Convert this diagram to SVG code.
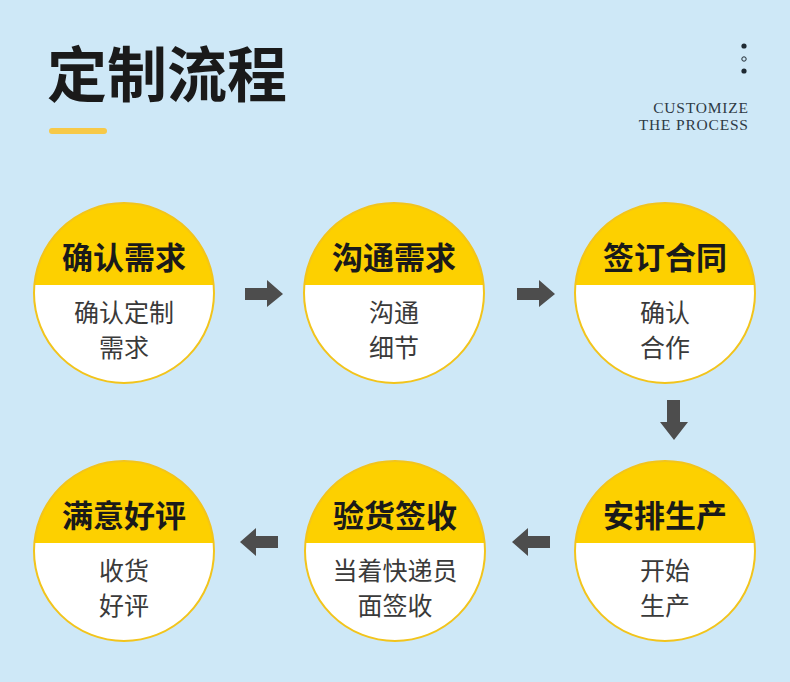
<svg xmlns="http://www.w3.org/2000/svg" width="790" height="682" viewBox="0 0 790 682">
<defs>
<clipPath id="cc"><circle cx="0" cy="0" r="90"/></clipPath>
<style>
.bg{fill:#CEE8F7}
.base{fill:#FFFFFF}
.top{fill:#FDD000}
.ring{fill:none;stroke:#F2C41C;stroke-width:2}
.t{font-family:"Noto Sans CJK SC","Noto Sans",sans-serif;font-size:31px;font-weight:700;fill:#1A1A1A;text-anchor:middle}
.s{font-family:"Noto Sans CJK SC","Noto Sans",sans-serif;font-size:25px;font-weight:400;fill:#3A3A3A;text-anchor:middle}
.arr{fill:#4D4D4D}
.head{font-family:"Noto Sans CJK SC",serif;font-size:60px;font-weight:700;fill:#1A1A1A}
.en{font-family:"Liberation Serif",serif;font-size:15.5px;letter-spacing:0.8px;fill:#2E3A44;text-anchor:end}
</style>
</defs>
<rect class="bg" x="0" y="0" width="790" height="682"/>

<g id="header">
<text class="head" x="47" y="97">定制流程</text>
<rect x="49" y="128" width="58" height="6" rx="3" fill="#F7C948"/>
<circle cx="744" cy="46" r="2.6" fill="#1F2A33"/>
<circle cx="744" cy="59" r="2.2" fill="none" stroke="#1F2A33" stroke-width="1"/>
<circle cx="744" cy="71" r="2.6" fill="#1F2A33"/>
<text class="en" x="748.8" y="112.5">CUSTOMIZE</text>
<text class="en" x="748.8" y="129.5">THE PROCESS</text>
</g>

<g id="connectors">
<polygon class="arr" points="245,288 267,288 267,280 283,294 267,307 267,300 245,300"/>
<polygon class="arr" points="517,288 539,288 539,280 555,294 539,307 539,300 517,300"/>
<polygon class="arr" points="667,400 680,400 680,422 688,422 674,440 660,422 667,422"/>
<polygon class="arr" points="550,536 528,536 528,528 512,542 528,556 528,548 550,548"/>
<polygon class="arr" points="278,536 256,536 256,528 240,542 256,556 256,548 278,548"/>
</g>

<g id="node1" transform="translate(124,293)">
<circle class="base" r="90"/>
<rect class="top" x="-91" y="-91" width="182" height="83" clip-path="url(#cc)"/>
<circle class="ring" r="90"/>
<text class="t" x="0" y="-24">确认需求</text>
<text class="s" x="0" y="29">确认定制</text>
<text class="s" x="0" y="64">需求</text>
</g>

<g id="node2" transform="translate(394,293)">
<circle class="base" r="90"/>
<rect class="top" x="-91" y="-91" width="182" height="83" clip-path="url(#cc)"/>
<circle class="ring" r="90"/>
<text class="t" x="0" y="-24">沟通需求</text>
<text class="s" x="0" y="29">沟通</text>
<text class="s" x="0" y="64">细节</text>
</g>

<g id="node3" transform="translate(665,293)">
<circle class="base" r="90"/>
<rect class="top" x="-91" y="-91" width="182" height="83" clip-path="url(#cc)"/>
<circle class="ring" r="90"/>
<text class="t" x="0" y="-24">签订合同</text>
<text class="s" x="0" y="29">确认</text>
<text class="s" x="0" y="64">合作</text>
</g>

<g id="node4" transform="translate(665,551)">
<circle class="base" r="90"/>
<rect class="top" x="-91" y="-91" width="182" height="83" clip-path="url(#cc)"/>
<circle class="ring" r="90"/>
<text class="t" x="0" y="-24">安排生产</text>
<text class="s" x="0" y="29">开始</text>
<text class="s" x="0" y="64">生产</text>
</g>

<g id="node5" transform="translate(395,551)">
<circle class="base" r="90"/>
<rect class="top" x="-91" y="-91" width="182" height="83" clip-path="url(#cc)"/>
<circle class="ring" r="90"/>
<text class="t" x="0" y="-24">验货签收</text>
<text class="s" x="0" y="29">当着快递员</text>
<text class="s" x="0" y="64">面签收</text>
</g>

<g id="node6" transform="translate(124,551)">
<circle class="base" r="90"/>
<rect class="top" x="-91" y="-91" width="182" height="83" clip-path="url(#cc)"/>
<circle class="ring" r="90"/>
<text class="t" x="0" y="-24">满意好评</text>
<text class="s" x="0" y="29">收货</text>
<text class="s" x="0" y="64">好评</text>
</g>
</svg>
